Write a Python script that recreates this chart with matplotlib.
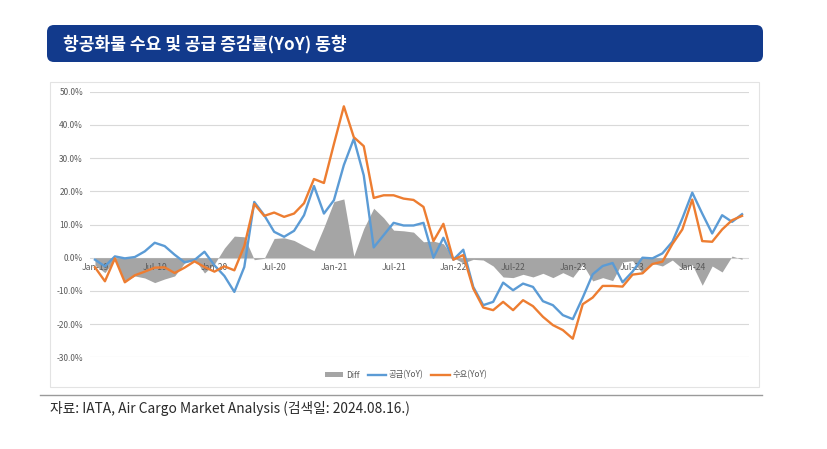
import matplotlib
matplotlib.use("Agg")
import matplotlib.pyplot as plt
from matplotlib.patches import FancyBboxPatch, Rectangle, Patch
from matplotlib.lines import Line2D
import numpy as np

plt.rcParams['font.family'] = ['Noto Sans CJK KR', 'DejaVu Sans']

# ---- data (monthly, Jan-19 .. Jun-24) ----
supply = [
    -0.6, -2.6, 0.4, -0.2, 0.2, 1.9, 4.5, 3.5, 0.9, -1.4, -0.7, 1.8,
    -2.3, -5.5, -10.3, -2.8, 16.8, 12.8, 7.8, 6.3, 8.1, 12.8, 21.6, 13.3,
    17.3, 27.9, 35.8, 24.8, 3.1, 6.8, 10.5, 9.7, 9.7, 10.5, 0.0, 6.0,
    -0.6, 2.4, -8.8, -14.3, -13.3, -7.5, -9.8, -7.8, -8.8, -13.1, -14.3, -17.3,
    -18.5, -12.0, -5.0, -2.5, -1.6, -7.4, -4.2, 0.0, -0.2, 1.3, 4.8, 11.8,
    19.6, 13.3, 7.3, 12.8, 10.8, 13.1,
]
demand = [
    -2.9, -7.1, -0.2, -7.4, -5.3, -4.2, -3.0, -2.9, -4.6, -3.0, -1.1, -2.8,
    -4.2, -2.6, -3.8, 3.5, 16.2, 12.6, 13.6, 12.3, 13.3, 16.4, 23.7, 22.5,
    34.2, 45.6, 36.3, 33.6, 18.0, 18.8, 18.8, 17.8, 17.4, 15.3, 5.0, 10.2,
    -0.6, 0.8, -9.3, -15.0, -15.8, -13.3, -15.8, -12.8, -14.6, -17.8, -20.3, -21.8,
    -24.4, -14.0, -12.0, -8.5, -8.5, -8.7, -5.1, -4.7, -1.9, -1.2, 4.1, 8.5,
    17.5, 5.0, 4.8, 8.5, 11.3, 12.6,
]
diff = [
    -2.3, -4.5, -0.6, -7.2, -5.5, -6.1, -7.5, -6.4, -5.5, -1.6, -0.4, -4.6,
    -1.9, 2.9, 6.5, 6.3, -0.6, -0.2, 5.8, 6.0, 5.2, 3.6, 2.1, 9.2,
    16.9, 17.7, 0.5, 8.8, 14.9, 12.0, 8.3, 8.1, 7.7, 4.8, 5.0, 4.2,
    0.0, -1.6, -0.5, -0.7, -2.5, -5.8, -6.0, -5.0, -5.8, -4.7, -6.0, -4.5,
    -5.9, -2.0, -7.0, -6.0, -6.9, -1.3, -0.9, -4.7, -1.7, -2.5, -0.7, -3.3,
    -2.1, -8.3, -2.5, -4.3, 0.5, -0.5,
]
tick_labels = ["Jan-19", "Jul-19", "Jan-20", "Jul-20", "Jan-21", "Jul-21",
               "Jan-22", "Jul-22", "Jan-23", "Jul-23", "Jan-24"]
yticks = [-30, -20, -10, 0, 10, 20, 30, 40, 50]

title = "항공화물 수요 및 공급 증감률(YoY) 동향"
source = "자료: IATA, Air Cargo Market Analysis (검색일: 2024.08.16.)"

C_SUP = "#5B9BD5"
C_DEM = "#ED7D31"
C_DIFF = "#A5A5A5"
C_TXT = "#595959"

W, H = 828, 449
fig = plt.figure(figsize=(W / 100, H / 100), dpi=100)
fig.patch.set_facecolor("white")

# background / decoration axes in pixel coordinates
bg = fig.add_axes([0, 0, 1, 1], zorder=0)
bg.set_xlim(0, W)
bg.set_ylim(H, 0)
bg.axis("off")

banner = FancyBboxPatch((47, 25), 716, 37, boxstyle="round,pad=0,rounding_size=7",
                        facecolor="#123a8c", edgecolor="none")
bg.add_patch(banner)
bg.text(63, 44, title, color="white", fontsize=12.3, fontweight="bold",
        va="center", ha="left")

bg.add_patch(Rectangle((50, 82), 709, 305, facecolor="white",
                       edgecolor="#e3e3e3", lw=0.8))
bg.plot([40, 762], [395, 395], color="#9a9a9a", lw=1.0)
bg.text(50, 409, source, color="#2a2a2a", fontsize=9.9, va="center", ha="left")

# main chart
x = np.arange(len(supply))
ax = fig.add_axes([90 / W, (H - 357.3) / H, (749 - 90) / W, (357.3 - 91.7) / H], zorder=1)
ax.patch.set_alpha(0)

ax.fill_between(x, 0, diff, color=C_DIFF, lw=0, zorder=2)
ax.plot(x, supply, color=C_SUP, lw=1.7, solid_joinstyle="round", zorder=3)
ax.plot(x, demand, color=C_DEM, lw=1.7, solid_joinstyle="round", zorder=4)

ax.set_ylim(-30, 50)
ax.set_xlim(-0.5, 65.7)
ax.set_yticks(yticks)
ax.set_yticklabels([f"{v:.1f}%" for v in yticks])
ax.yaxis.grid(True, color="#d9d9d9", lw=0.8)
ax.yaxis.set_zorder(0.5)
ax.xaxis.set_zorder(2.5)

ax.set_xticks(np.arange(0, len(supply), 6))
ax.set_xticklabels(tick_labels)
for s in ["top", "right", "left"]:
    ax.spines[s].set_visible(False)
ax.spines["bottom"].set_position(("data", 0))
ax.spines["bottom"].set_visible(False)
ax.tick_params(axis="x", length=0, pad=3.5, labelsize=6.2, labelcolor=C_TXT)
ax.tick_params(axis="y", length=0, pad=5, labelsize=6, labelcolor=C_TXT)

handles = [Patch(facecolor=C_DIFF, edgecolor="none"),
           Line2D([], [], color=C_SUP, lw=1.7),
           Line2D([], [], color=C_DEM, lw=1.7)]
labels = ["Diff", "공급(YoY)", "수요(YoY)"]
leg = fig.legend(handles, labels, loc="center", bbox_to_anchor=(406 / W, 1 - 375 / H),
                 ncol=3, frameon=False, fontsize=6, handlelength=2.2,
                 handleheight=0.5, columnspacing=1.0, handletextpad=0.3)
for t in leg.get_texts():
    t.set_color(C_TXT)

fig.savefig("out.png", dpi=100)
